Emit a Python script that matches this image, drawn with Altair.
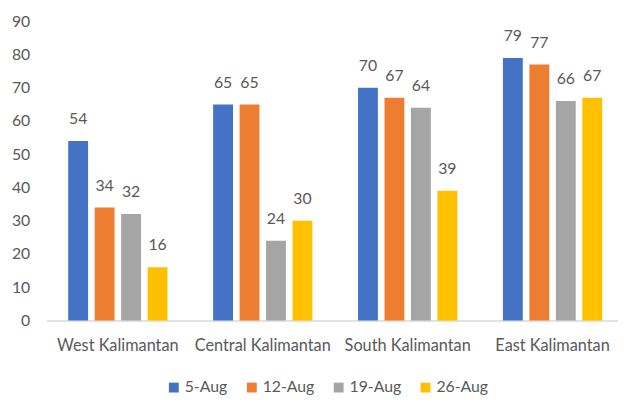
import altair as alt
import pandas as pd

regions = ["West Kalimantan", "Central Kalimantan", "South Kalimantan", "East Kalimantan"]
series = ["5-Aug", "12-Aug", "19-Aug", "26-Aug"]
values = {
    "5-Aug": [54, 65, 70, 79],
    "12-Aug": [34, 65, 67, 77],
    "19-Aug": [32, 24, 64, 66],
    "26-Aug": [16, 30, 39, 67],
}
colors = ["#4472C4", "#ED7D31", "#A5A5A5", "#FFC000"]

rows = []
for s in series:
    for r, v in zip(regions, values[s]):
        rows.append({"Region": r, "Date": s, "Value": v})
df = pd.DataFrame(rows)

FONT = "Lato"
TXT = "#595959"
FS = 16

x = alt.X("Region:N", sort=regions, title=None,
          scale=alt.Scale(paddingInner=0.315, paddingOuter=0.15, range=[0, 585]),
          axis=alt.Axis(labelAngle=0, ticks=False, domainColor="#d9d9d9", domainWidth=1.5,
                        labelPadding=17, labelFontSize=16.5, labelColor=TXT, labelFont=FONT))
xo = alt.XOffset("Date:N", sort=series, scale=alt.Scale(paddingInner=0.25))
y = alt.Y("Value:Q", title=None,
          scale=alt.Scale(domain=[0, 90]),
          axis=alt.Axis(values=list(range(0, 91, 10)), grid=False, domain=False, ticks=False,
                        labelPadding=17, labelFontSize=FS, labelColor=TXT, labelFont=FONT))

bars = alt.Chart(df).mark_bar().encode(
    x=x, xOffset=xo, y=y,
    color=alt.Color("Date:N", sort=series, scale=alt.Scale(domain=series, range=colors),
                    legend=alt.Legend(title=None, orient="none", direction="horizontal",
                                      legendX=121, legendY=363, symbolType="square", symbolSize=100,
                                      labelFontSize=FS, labelColor=TXT, labelFont=FONT,
                                      labelOffset=3, columnPadding=16, symbolStrokeWidth=0)),
)

labels = alt.Chart(df).mark_text(dy=-22, fontSize=FS, color=TXT, font=FONT).encode(
    x=x, xOffset=xo, y=y, text="Value:Q"
)

chart = (bars + labels).properties(
    width=579, height=303,
    autosize=alt.AutoSizeParams(type="none"),
    padding={"left": 39, "top": 11, "right": 0, "bottom": 73},
).configure_view(stroke=None)

chart.save("out.html", embed_options={"renderer": "svg", "actions": False})
